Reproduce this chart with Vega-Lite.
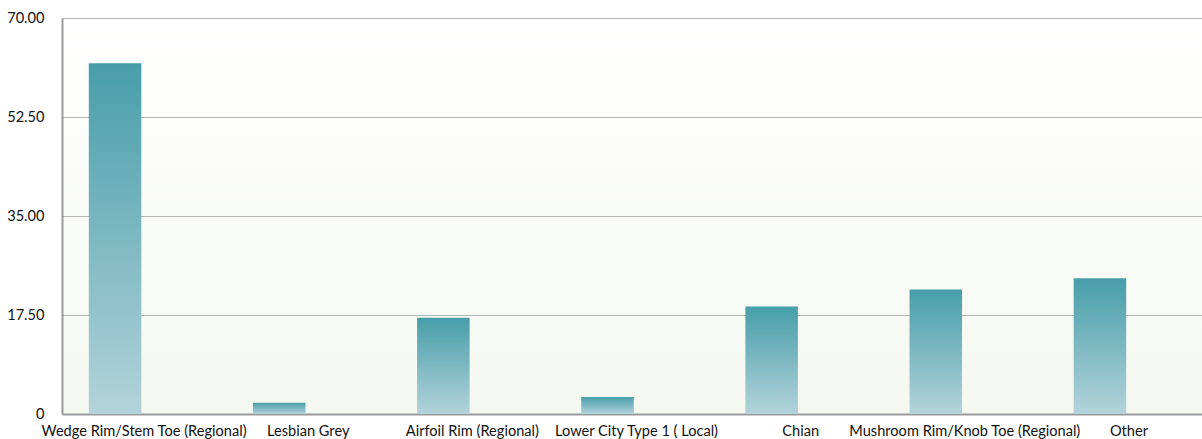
{
  "$schema": "https://vega.github.io/schema/vega-lite/v6.json",
  "autosize": "none",
  "width": 1140,
  "height": 396,
  "padding": {"left": 62, "top": 18, "right": 0, "bottom": 25},
  "background": "white",
  "config": {
    "font": "Lato",
    "view": {
      "stroke": null,
      "fill": {
        "gradient": "linear",
        "x1": 0, "y1": 0, "x2": 0, "y2": 1,
        "stops": [
          {"offset": 0, "color": "#ffffff"},
          {"offset": 1, "color": "#f5f8f0"}
        ]
      }
    }
  },
  "data": {
    "values": [
      {"category": "Wedge Rim/Stem Toe (Regional)", "value": 62},
      {"category": "Lesbian Grey", "value": 2},
      {"category": "Airfoil Rim (Regional)", "value": 17},
      {"category": "Lower City Type 1 ( Local)", "value": 3},
      {"category": "Chian", "value": 19},
      {"category": "Mushroom Rim/Knob Toe (Regional)", "value": 22},
      {"category": "Other", "value": 24}
    ]
  },
  "mark": {
    "type": "bar",
    "width": {"band": 0.32},
    "xOffset": -29,
    "color": {
      "gradient": "linear",
      "x1": 0, "y1": 0, "x2": 0, "y2": 1,
      "stops": [
        {"offset": 0, "color": "#479ea9"},
        {"offset": 1, "color": "#b3d3da"}
      ]
    }
  },
  "encoding": {
    "x": {
      "field": "category",
      "type": "nominal",
      "sort": null,
      "scale": {"paddingInner": 0, "paddingOuter": 0, "range": [0, 1149]},
      "axis": {
        "title": null,
        "labelAngle": 0,
        "labelFontSize": 14.6,
        "labelColor": "#111111",
        "labelPadding": 9,
        "ticks": false,
        "domainColor": "#9a9a9a",
        "domainWidth": 2,
        "labelLimit": 300
      }
    },
    "y": {
      "field": "value",
      "type": "quantitative",
      "scale": {"domain": [0, 70], "nice": false},
      "axis": {
        "title": null,
        "values": [0, 17.5, 35, 52.5, 70],
        "labelExpr": "datum.value == 0 ? '0' : format(datum.value, '.2f')",
        "labelFontSize": 14.6,
        "labelColor": "#111111",
        "labelPadding": 18,
        "ticks": false,
        "domainColor": "#9a9a9a",
        "domainWidth": 2,
        "gridColor": "#b5b5b5",
        "gridWidth": 1.2
      }
    }
  }
}
